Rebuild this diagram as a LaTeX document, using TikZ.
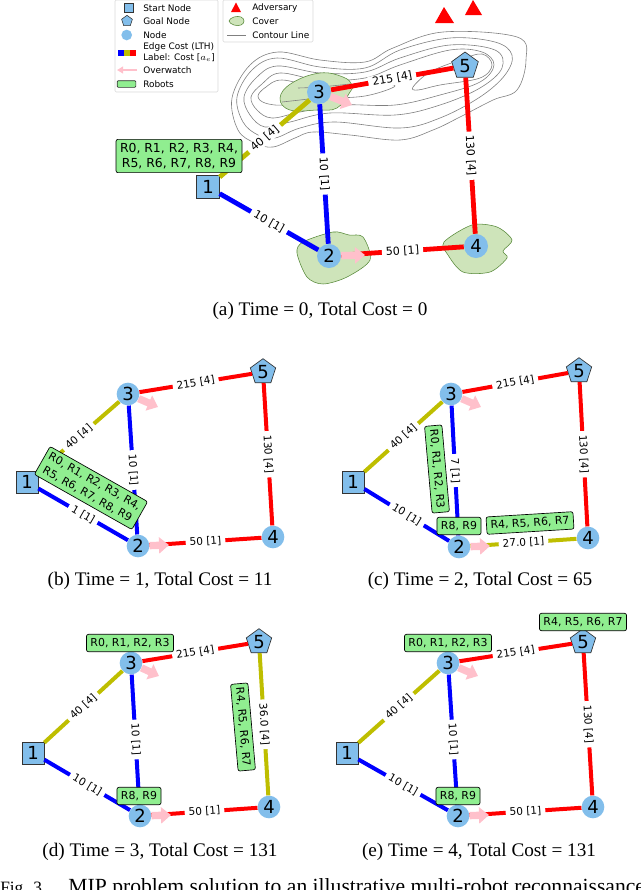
\documentclass[tikz,border=0pt]{standalone}
\usepackage{amsmath}
\usepackage{fontspec}
\setmainfont{Liberation Serif}
\newfontfamily\plotfont{DejaVu Sans}
\usepackage{tikz}
\usetikzlibrary{arrows.meta,shapes.geometric,positioning}
\definecolor{nodeblue}{RGB}{130,190,235}
\definecolor{edgeblue}{RGB}{0,0,255}
\definecolor{edgeolive}{RGB}{190,190,0}
\definecolor{edgered}{RGB}{255,0,0}
\definecolor{robotgreen}{RGB}{144,238,144}
\definecolor{coverfill}{RGB}{206,228,186}
\definecolor{coverline}{RGB}{85,135,55}
\definecolor{owpink}{RGB}{255,192,203}
\tikzset{
    x=0.75pt, y=-0.75pt,
    nodetext/.style={font=\plotfont\fontsize{13.5}{14}\selectfont, text=black, inner sep=0pt},
    plainnode/.style={nodetext, circle, fill=nodeblue, minimum size=17pt},
    startnode/.style={nodetext, rectangle, draw=black!80, line width=0.5pt, fill=nodeblue, minimum size=16.5pt},
    goalnode/.style={nodetext, regular polygon, regular polygon sides=5, draw=black!80, line width=0.5pt, fill=nodeblue, minimum size=20pt},
    edgecost/.style={line width=3pt},
    edgelabel/.style={font=\plotfont\fontsize{7.9}{9}\selectfont, text=black, fill=white, inner xsep=3pt, inner ysep=1pt, sloped, midway},
    overwatch/.style={owpink, line width=5.5pt, -{Triangle[length=7.5pt,width=12pt]}},
    robots/.style={font=\plotfont\fontsize{8.2}{11}\selectfont, draw=black, line width=0.5pt, fill=robotgreen, rounded corners=1.5pt, align=center, inner xsep=3pt, inner ysep=3pt},
    caption/.style={font=\fontsize{14.4}{16}\selectfont},
    legendtext/.style={font=\plotfont\fontsize{6.7}{8}\selectfont, anchor=west, inner sep=0pt, align=left},
    legendbox/.style={draw=black!15, line width=0.4pt, fill=white, rounded corners=1pt},
    contour/.style={draw=black!50, line width=0.45pt},
    cover/.style={draw=coverline, line width=0.4pt, fill=coverfill},
    adversary/.style={fill=edgered},
}
% five nodes of one graph
\newcommand{\graphnodes}[5]{
    \node[startnode] (n1) at (#1) {1};
    \node[plainnode] (n2) at (#2) {2};
    \node[plainnode] (n3) at (#3) {3};
    \node[plainnode] (n4) at (#4) {4};
    \node[goalnode]  (n5) at (#5) {5};
}
\newcommand{\costedge}[4]{\draw[edgecost, #3] (#1) -- node[edgelabel] (#1#2) {#4} (#2);}
\begin{document}
\begin{tikzpicture}
\useasboundingbox (0,0) rectangle (640,890);

% Contour lines
\draw[contour] plot[smooth cycle, tension=0.6] coordinates {(232,98) (238,130) (255,143) (273,147) (295,138) (313,132) (350,135) (400,140) (433,130) (460,117) (493,100) (517,90) (526,60) (517,37) (443,32) (393,48) (365,62) (320,60) (278,52) (250,65)};
\draw[contour] plot[smooth cycle, tension=0.6] coordinates {(237,97) (243,122) (258,135) (275,138) (300,128) (335,122) (400,128) (440,118) (480,97) (505,75) (512,55) (495,42) (450,38) (400,50) (365,68) (320,67) (277,58) (252,70)};
\draw[contour] plot[smooth cycle, tension=0.6] coordinates {(244,97) (250,115) (265,127) (290,122) (330,113) (395,115) (440,105) (480,88) (502,68) (495,50) (450,45) (400,58) (365,72) (320,73) (277,66) (256,78)};
\draw[contour] plot[smooth cycle, tension=0.6] coordinates {(251,97) (257,110) (272,118) (300,112) (340,105) (395,105) (440,95) (480,82) (494,65) (482,52) (450,50) (400,65) (365,78) (320,80) (280,73) (262,84)};
\draw[contour] plot[smooth cycle, tension=0.6] coordinates {(258,96) (265,103) (285,105) (320,99) (365,96) (395,86) (370,84) (320,87) (282,80) (266,87)};
\draw[contour] plot[smooth cycle, tension=0.6] coordinates {(413,87) (418,90) (440,85) (480,78) (492,65) (482,54) (460,60) (430,72)};

% Cover
\draw[cover] plot[smooth cycle, tension=0.7] coordinates {(280,98) (292,83) (320,73) (343,77) (352,85) (350,92) (337,108) (317,110) (290,110)};
\draw[contour] plot[smooth, tension=0.6] coordinates {(282,102) (300,100) (325,97)};
\draw[contour] plot[smooth, tension=0.6] coordinates {(298,88) (320,87) (350,84)};
\draw[cover] plot[smooth cycle, tension=0.5] coordinates {(297,253) (303,242) (333,232) (349,235) (363,237) (370,260) (347,277) (323,284) (307,277)};
\draw[cover] plot[smooth cycle, tension=0.5] coordinates {(444,242) (472,225) (497,227) (512,240) (503,251) (507,258) (490,272) (463,272) (448,255)};

% Time = 0
\begin{scope}[name prefix=a-, plainnode/.append style={minimum size=18pt}, startnode/.append style={minimum size=17pt}, goalnode/.append style={minimum size=21pt}, edgecost/.append style={line width=3.6pt}, edgelabel/.append style={font=\plotfont\fontsize{8.3}{9}\selectfont}]
    \graphnodes{208,187}{329,256}{319,92}{476,246}{465,66}
    \costedge{n1}{n2}{edgeblue}{10 [1]}
    \costedge{n1}{n3}{edgeolive}{40 [4]}
    \costedge{n3}{n2}{edgeblue}{10 [1]}
    \costedge{n2}{n4}{edgered}{50 [1]}
    \costedge{n3}{n5}{edgered}{215 [4]}
    \costedge{n5}{n4}{edgered}{130 [4]}
    \draw[overwatch] (n2) -- ++(36,-1);
    \draw[overwatch] (n3) -- ++(33,13);
    \node[robots, font=\plotfont\fontsize{9.3}{11}\selectfont] (r1) at (179,156) {R0, R1, R2, R3, R4,\\R5, R6, R7, R8, R9};
\end{scope}

% Adversaries
\fill[adversary] (444,7) -- (454,23) -- (435,23) -- cycle;
\fill[adversary] (473,0) -- (482,15) -- (465,15) -- cycle;

% Time = 1
\begin{scope}[name prefix=b-]
    \graphnodes{27,482}{138,546}{128,394}{273,537}{263,372}
    \costedge{n1}{n2}{edgeblue}{1 [1]}
    \costedge{n1}{n3}{edgeolive}{40 [4]}
    \costedge{n3}{n2}{edgeblue}{10 [1]}
    \costedge{n2}{n4}{edgered}{50 [1]}
    \costedge{n3}{n5}{edgered}{215 [4]}
    \costedge{n5}{n4}{edgered}{130 [4]}
    \draw[overwatch] (n2) -- ++(31,-1);
    \draw[overwatch] (n3) -- ++(30,13);
    \node[robots, rotate=-29.5] (r1) at (91,488) {R0, R1, R2, R3, R4,\\R5, R6, R7, R8, R9};
\end{scope}

% Time = 2
\begin{scope}[name prefix=c-]
    \graphnodes{353,482}{459,547}{451,394}{588,538}{579,371}
    \costedge{n1}{n2}{edgeblue}{10 [1]}
    \costedge{n1}{n3}{edgeolive}{40 [4]}
    \costedge{n3}{n2}{edgeblue}{7 [1]}
    \costedge{n2}{n4}{edgeolive}{27.0 [1]}
    \costedge{n3}{n5}{edgered}{215 [4]}
    \costedge{n5}{n4}{edgered}{130 [4]}
    \draw[overwatch] (n2) -- ++(31,-1);
    \draw[overwatch] (n3) -- ++(30,13);
    \node[robots, rotate=-85] (r1) at (437,469) {R0, R1, R2, R3};
    \node[robots] (r2) at (459,526) {R8, R9};
    \node[robots, rotate=3.5] (r3) at (530,523) {R4, R5, R6, R7};
\end{scope}

% Time = 3
\begin{scope}[name prefix=d-]
    \graphnodes{33,753}{140,816}{131,663}{269,807}{259,642}
    \costedge{n1}{n2}{edgeblue}{10 [1]}
    \costedge{n1}{n3}{edgeolive}{40 [4]}
    \costedge{n3}{n2}{edgeblue}{10 [1]}
    \costedge{n2}{n4}{edgered}{50 [1]}
    \costedge{n3}{n5}{edgered}{215 [4]}
    \costedge{n5}{n4}{edgeolive}{36.0 [4]}
    \draw[overwatch] (n2) -- ++(31,-1);
    \draw[overwatch] (n3) -- ++(28,13);
    \node[robots] (r1) at (130,643) {R0, R1, R2, R3};
    \node[robots] (r2) at (139,796) {R8, R9};
    \node[robots, rotate=-85] (r3) at (243,727) {R4, R5, R6, R7};
\end{scope}

% Time = 4
\begin{scope}[name prefix=e-]
    \graphnodes{347,753}{458,816}{448,663}{593,807}{583,642}
    \costedge{n1}{n2}{edgeblue}{10 [1]}
    \costedge{n1}{n3}{edgeolive}{40 [4]}
    \costedge{n3}{n2}{edgeblue}{10 [1]}
    \costedge{n2}{n4}{edgered}{50 [1]}
    \costedge{n3}{n5}{edgered}{215 [4]}
    \costedge{n5}{n4}{edgered}{130 [4]}
    \draw[overwatch] (n2) -- ++(31,-1);
    \draw[overwatch] (n3) -- ++(30,13);
    \node[robots] (r1) at (448,643) {R0, R1, R2, R3};
    \node[robots] (r2) at (458,796) {R8, R9};
    \node[robots] (r3) at (583,622) {R4, R5, R6, R7};
\end{scope}

% Legend
\draw[legendbox] (115,0) rectangle (218,92);
\draw[legendbox] (223,0) rectangle (313,42);
\node[rectangle, draw=black!80, line width=0.4pt, fill=nodeblue, minimum size=7pt, inner sep=0pt] (keystart) at (128.7,8) {};
\node[regular polygon, regular polygon sides=5, draw=black!80, line width=0.4pt, fill=nodeblue, minimum size=8.5pt, inner sep=0pt] (keygoal) at (127,21) {};
\node[circle, fill=nodeblue, minimum size=8pt, inner sep=0pt] (keynode) at (126.7,35) {};
\fill[edgeblue] (118,50) rectangle (124,56);
\fill[edgeolive] (124,50) rectangle (130,56);
\fill[edgered] (130,50) rectangle (136,56);
\coordinate (owstart) at (137,70);
\coordinate (owend) at (117,70);
\draw[owpink, line width=2pt, -{Triangle[length=4.5pt,width=5pt]}] (owstart) -- (owend);
\node[rectangle, draw=black!80, line width=0.5pt, fill=robotgreen, rounded corners=0.8pt, minimum width=14pt, minimum height=5pt, inner sep=0pt] (keyrobots) at (126.5,84) {};
\node[legendtext] (lstart) at (143,8) {Start Node};
\node[legendtext] (lgoal) at (143,21) {Goal Node};
\node[legendtext] (lnode) at (143,35) {Node};
\node[legendtext] (ledge) at (143,52.5) {Edge Cost (LTH)\\Label: Cost [$a_e$]};
\node[legendtext] (lwatch) at (143,70) {Overwatch};
\node[legendtext] (lrobots) at (143,84) {Robots};
\fill[adversary] (236,2.5) -- (241,12) -- (231,12) -- cycle;
\draw[cover] plot[smooth cycle, tension=0.7] coordinates {(229,21) (234,17) (241,17) (244,21) (241,25) (234,25)};
\coordinate (contourstart) at (227,35);
\coordinate (contourend) at (246,35);
\draw[contour] (contourstart) -- (contourend);
\node[legendtext] (ladv) at (252,8) {Adversary};
\node[legendtext] (lcov) at (252,21) {Cover};
\node[legendtext] (lcon) at (252,35) {Contour Line};

% Captions
\node[caption] (cap-a) at (320,311) {(a) Time = 0, Total Cost = 0};
\node[caption] (cap-b) at (160,581) {(b) Time = 1, Total Cost = 11};
\node[caption] (cap-c) at (480,581) {(c) Time = 2, Total Cost = 65};
\node[caption] (cap-d) at (160,852) {(d) Time = 3, Total Cost = 131};
\node[caption] (cap-e) at (479,852) {(e) Time = 4, Total Cost = 131};
\node[font=\fontsize{16.2}{18}\selectfont, anchor=base west, inner sep=0pt] (figcap) at (0,893) {{\fontsize{13}{15}\selectfont Fig. 3.}\hspace{16.5pt}MIP problem solution to an illustrative multi-robot reconnaissance};
\end{tikzpicture}
\end{document}
